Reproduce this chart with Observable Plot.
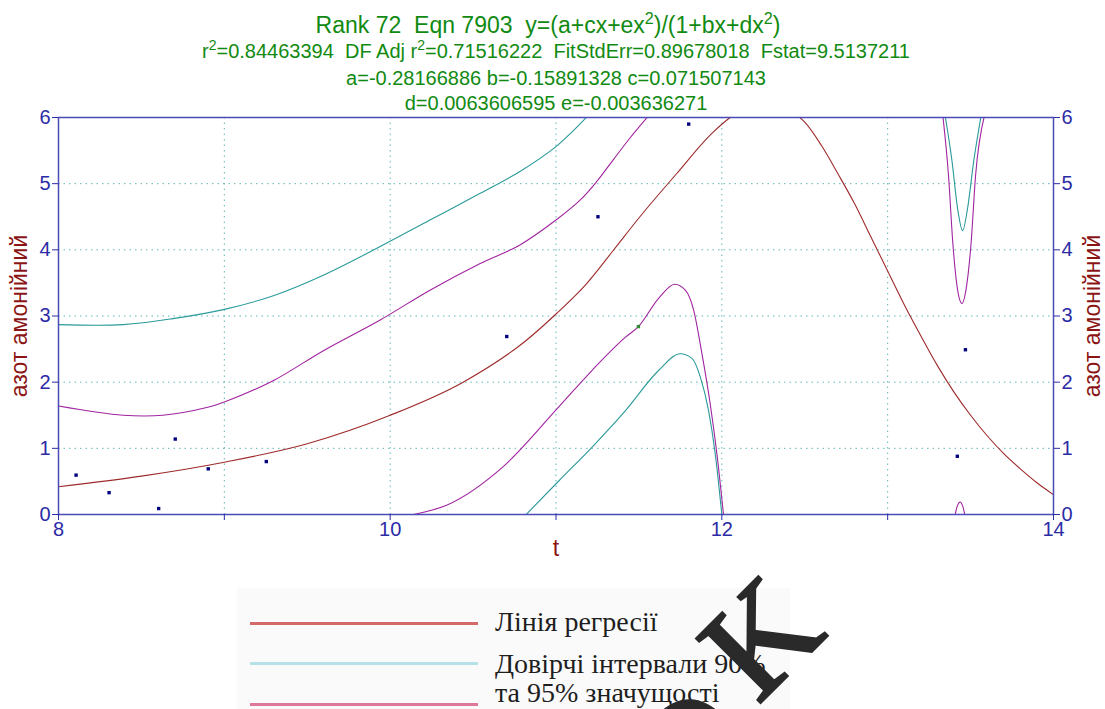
<!DOCTYPE html>
<html>
<head>
<meta charset="utf-8">
<script src="https://cdn.jsdelivr.net/npm/d3@7"></script>
<script src="https://cdn.jsdelivr.net/npm/@observablehq/plot@0.6"></script>
<style>
  html, body { margin: 0; padding: 0; background: #fff; width: 1105px; height: 709px; overflow: hidden; position: relative; }
  .tl { position: absolute; left: 0; width: 1112px; text-align: center; font-family: "Liberation Sans", Arial, sans-serif; color: #118a11; white-space: pre; }
  .tl sup { font-size: 70%; vertical-align: 0; position: relative; top: -0.55em; }
  #chart { position: absolute; left: 0; top: 100px; }
  #legend { position: absolute; left: 237px; top: 588px; width: 553px; height: 121px; background: #fafafa; }
  .lg { position: absolute; font-family: "Liberation Serif", "Times New Roman", serif; font-size: 28px; line-height: 30px; color: #1e1e1e; white-space: nowrap; }
  .ls { position: absolute; left: 13px; width: 228px; height: 3px; }
  #wm { position: absolute; left: 0; top: 0; pointer-events: none; }
</style>
</head>
<body>
<div class="tl" style="top:11px;left:-8px;font-size:23px;line-height:29px;">Rank 72  Eqn 7903  y=(a+cx+ex<sup>2</sup>)/(1+bx+dx<sup>2</sup>)</div>
<div class="tl" style="top:39px;font-size:20px;line-height:24px;">r<sup>2</sup>=0.84463394  DF Adj r<sup>2</sup>=0.71516222  FitStdErr=0.89678018  Fstat=9.5137211</div>
<div class="tl" style="top:66px;font-size:20px;line-height:24px;">a=-0.28166886 b=-0.15891328 c=0.071507143</div>
<div class="tl" style="top:91px;font-size:20px;line-height:24px;">d=0.0063606595 e=-0.003636271</div>
<div id="chart"></div>
<div id="legend">
  <div class="ls" style="top:34px;background:#d26a6a;"></div>
  <div class="lg" style="left:258px;top:19px;">Лінія регресії</div>
  <div class="ls" style="top:74px;background:#b6e1e7;"></div>
  <div class="lg" style="left:258px;top:61px;">Довірчі інтервали 90%</div>
  <div class="ls" style="top:115px;background:#de7898;"></div>
  <div class="lg" style="left:258px;top:90px;">та 95% значущості</div>
</div>
<svg id="wm" width="1105" height="709">
  <text x="760" y="637" transform="rotate(-45 760 637)" text-anchor="middle" dominant-baseline="central" font-family="Liberation Serif, serif" font-size="138" fill="#2a2a2a" stroke="#2a2a2a" stroke-width="3">K</text>
  <text x="690" y="748" transform="rotate(-45 690 748)" text-anchor="middle" dominant-baseline="central" font-family="Liberation Serif, serif" font-size="140" fill="#2a2a2a" stroke="#2a2a2a" stroke-width="3">O</text>
</svg>
<script>
// Data points (t, азот амонійний)
const ptT = [8.106, 8.305, 8.604, 8.704, 8.903, 9.253, 10.703, 11.253, 11.80, 13.42, 13.469];
const ptY = [0.595, 0.33, 0.09, 1.14, 0.69, 0.80, 2.69, 4.50, 5.90, 0.88, 2.49];
const hiT = [11.497];
const hiY = [2.84];

// Regression line
const regT = [8, 8.5, 9, 9.5, 10, 10.44, 10.82, 11.0, 11.185, 11.345, 11.506, 11.727, 11.94, 12.05, 12.15, 12.25, 12.35, 12.45, 12.5, 12.6, 12.7, 12.8, 12.9, 13.0, 13.1, 13.2, 13.3, 13.4, 13.5, 13.6, 13.7, 13.8, 13.9, 14];
const regY = [0.42, 0.58, 0.79, 1.07, 1.50, 2.0, 2.63, 3.03, 3.49, 3.99, 4.50, 5.15, 5.76, 6.0, 6.16, 6.23, 6.17, 6.04, 5.93, 5.58, 5.15, 4.70, 4.19, 3.68, 3.17, 2.70, 2.25, 1.85, 1.50, 1.19, 0.92, 0.69, 0.48, 0.30];

// 90% band
const up90T = [8, 8.39, 8.69, 9.0, 9.3, 9.6, 9.94, 10.24, 10.54, 10.78, 11.0, 11.10, 11.19];
const up90Y = [2.87, 2.87, 2.96, 3.10, 3.31, 3.62, 4.05, 4.45, 4.85, 5.18, 5.56, 5.79, 6.02];
const lo90T = [10.82, 11.018, 11.218, 11.419, 11.62, 11.75, 11.82, 11.87, 11.92, 11.96, 12.0];
const lo90Y = [0, 0.51, 1.02, 1.57, 2.18, 2.43, 2.36, 2.08, 1.57, 0.92, 0];
const sp90T = [13.347, 13.387, 13.423, 13.452, 13.48, 13.52, 13.563];
const sp90Y = [6.02, 5.36, 4.6, 4.29, 4.6, 5.36, 6.02];

// 95% band
const up95T = [8, 8.39, 8.63, 8.9, 9.0, 9.3, 9.6, 9.94, 10.24, 10.54, 10.78, 11.0, 11.145, 11.245, 11.345, 11.446, 11.556];
const up95Y = [1.64, 1.50, 1.50, 1.62, 1.70, 2.03, 2.48, 2.94, 3.39, 3.79, 4.07, 4.45, 4.75, 5.03, 5.36, 5.69, 6.02];
const lo95T = [10.14, 10.34, 10.68, 11.018, 11.218, 11.419, 11.497, 11.62, 11.716, 11.78, 11.83, 11.88, 11.93, 11.97, 12.01];
const lo95Y = [0, 0.14, 0.72, 1.63, 2.18, 2.68, 2.84, 3.27, 3.48, 3.39, 3.09, 2.43, 1.67, 0.92, 0];
const sp95T = [13.333, 13.367, 13.393, 13.419, 13.448, 13.475, 13.503, 13.53, 13.583];
const sp95Y = [6.02, 5.12, 4.1, 3.44, 3.19, 3.44, 4.1, 5.12, 6.02];
const bp95T = [13.407, 13.42, 13.437, 13.452, 13.465];
const bp95Y = [0, 0.13, 0.19, 0.13, 0];

const xTicks = [8, 9, 10, 11, 12, 13, 14];
const yTicks = [0, 1, 2, 3, 4, 5, 6];
const xLabel = "t";
const yLabel = "азот амонійний";

const zip = (T, Y) => T.map((t, i) => ({t, y: Y[i]}));

const regColor = "#9e2b2b";
const c90 = "#2a9a9a";
const c95 = "#a024a0";
const axisColor = "#2b2ba6";
const gridColor = "#63b8b8";

const lineOpts = (stroke, curve = "monotone-x") => ({x: "t", y: "y", stroke, strokeWidth: 1.1, curve, clip: true});

const chart = Plot.plot({
  width: 1105,
  height: 470,
  marginLeft: 58,
  marginRight: 52,
  marginTop: 17,
  marginBottom: 56,
  style: {fontFamily: "Liberation Sans, Arial, sans-serif", background: "transparent"},
  x: {domain: [8, 14]},
  y: {domain: [0, 6]},
  marks: [
    Plot.gridX([9, 10, 11, 12, 13], {stroke: gridColor, strokeOpacity: 1, strokeDasharray: "1.5,4"}),
    Plot.gridY([1, 2, 3, 4, 5], {stroke: gridColor, strokeOpacity: 1, strokeDasharray: "1.5,4"}),
    Plot.line(zip(up90T, up90Y), lineOpts(c90, "catmull-rom")),
    Plot.line(zip(lo90T, lo90Y), lineOpts(c90)),
    Plot.line(zip(sp90T, sp90Y), lineOpts(c90)),
    Plot.line(zip(up95T, up95Y), lineOpts(c95, "catmull-rom")),
    Plot.line(zip(lo95T, lo95Y), lineOpts(c95)),
    Plot.line(zip(sp95T, sp95Y), lineOpts(c95)),
    Plot.line(zip(bp95T, bp95Y), lineOpts(c95)),
    Plot.line(zip(regT, regY), lineOpts(regColor)),
    Plot.dot(zip(ptT, ptY), {x: "t", y: "y", symbol: "square", r: 1.9, fill: "#000080", stroke: null}),
    Plot.dot(zip(hiT, hiY), {x: "t", y: "y", symbol: "square", r: 1.9, fill: "#2e8b2e", stroke: null}),
    Plot.frame({stroke: "#4a4ab8", strokeWidth: 1.5}),
    Plot.axisX({ticks: xTicks, tickFormat: d => d % 2 === 0 ? String(d) : "", tickSize: 6, tickPadding: 1, fontSize: 20, color: axisColor, label: null}),
    Plot.axisY({anchor: "left", ticks: yTicks, tickFormat: d => String(d), tickSize: 6, tickPadding: 2, fontSize: 20, color: axisColor, label: null}),
    Plot.axisY({anchor: "right", ticks: yTicks, tickFormat: d => String(d), tickSize: 6, tickPadding: 2, fontSize: 20, color: axisColor, label: null}),
    Plot.text([xLabel], {frameAnchor: "bottom", text: d => d, dy: 41, fontSize: 23, fill: "#8b1515"}),
    Plot.text([yLabel], {frameAnchor: "left", text: d => d, textAnchor: "middle", dx: -39, rotate: -90, fontSize: 23, fill: "#8b1515"}),
    Plot.text([yLabel], {frameAnchor: "right", text: d => d, textAnchor: "middle", dx: 39, rotate: -90, fontSize: 23, fill: "#8b1515"})
  ]
});
document.getElementById("chart").appendChild(chart);
</script>
</body>
</html>
